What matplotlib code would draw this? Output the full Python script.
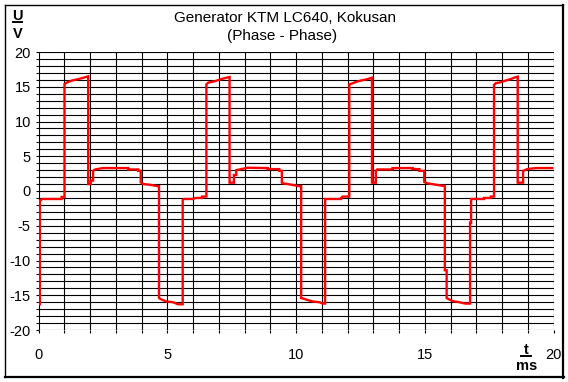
import matplotlib
matplotlib.use("Agg")
import matplotlib.pyplot as plt
from matplotlib.lines import Line2D
from matplotlib.ticker import MultipleLocator, FuncFormatter

# ---- data (time in ms, voltage in V) ----
t_ms = [0.00, 0.05, 0.05, 0.15, 0.90, 0.90, 1.01,
        1.01, 1.10, 1.30, 1.55, 1.75, 1.93,
        1.93, 2.03, 2.03, 2.12, 2.12, 2.20, 2.50, 3.48, 3.48, 3.87, 3.87, 3.97,
        3.97, 4.06, 4.32, 4.64, 4.68,
        4.68, 4.77, 4.97, 5.22, 5.42, 5.60,
        5.60, 5.65, 6.00, 6.10, 6.35, 6.35, 6.52,
        6.52, 6.60, 6.85, 7.10, 7.30, 7.42,
        7.42, 7.59, 7.59, 7.68, 7.68, 8.13, 8.90, 8.90, 9.35, 9.35, 9.45,
        9.45, 9.49, 9.75, 10.13, 10.20,
        10.20, 10.30, 10.46, 10.65, 10.91, 11.04, 11.13,
        11.13, 11.75, 11.75, 11.81, 12.07,
        12.07, 12.20, 12.33, 12.53, 12.78, 12.95,
        12.95, 13.10, 13.10, 13.15, 13.75, 13.75, 14.53, 14.53, 14.79, 14.79, 14.98,
        14.98, 15.11, 15.37, 15.69, 15.78,
        15.78, 15.85, 15.85, 15.95, 16.08, 16.34, 16.57, 16.76,
        16.76, 16.80, 16.80, 17.30, 17.30, 17.57, 17.57, 17.69,
        17.69, 17.75, 17.95, 18.15, 18.34, 18.47, 18.61,
        18.61, 18.82, 18.82, 18.98, 19.31, 19.95]
u_v = [-16.3, -16.3, -1.4, -1.15, -1.15, -0.85, -0.85,
       15.4, 15.6, 15.9, 16.1, 16.3, 16.5,
       1.0, 1.0, 1.5, 1.5, 2.9, 3.1, 3.3, 3.3, 3.1, 3.1, 2.9, 2.9,
       1.25, 1.0, 0.9, 0.7, 0.7,
       -15.4, -15.6, -15.9, -16.0, -16.3, -16.3,
       -1.3, -1.15, -1.15, -1.0, -1.0, -0.8, -0.8,
       15.35, 15.6, 15.8, 16.1, 16.3, 16.4,
       1.2, 1.2, 2.3, 2.3, 3.0, 3.35, 3.3, 3.15, 3.15, 2.9, 2.9,
       1.2, 1.1, 0.95, 0.7, 0.7,
       -15.4, -15.5, -15.7, -15.9, -16.0, -16.2, -16.2,
       -1.15, -1.15, -1.0, -0.8, -0.8,
       15.35, 15.5, 15.7, 15.9, 16.1, 16.3,
       1.2, 1.2, 2.9, 3.1, 3.1, 3.3, 3.3, 3.15, 3.15, 2.9, 2.9,
       1.3, 1.1, 0.95, 0.75, 0.75,
       -11.4, -11.4, -15.4, -15.6, -15.85, -16.0, -16.2, -16.2,
       -4.55, -4.55, -1.15, -1.15, -1.0, -1.0, -0.8, -0.8,
       15.25, 15.5, 15.65, 15.9, 16.1, 16.3, 16.45,
       1.2, 1.2, 2.9, 3.15, 3.3, 3.3]

title_lines = ["Generator KTM LC640, Kokusan", "(Phase - Phase)"]
x_major = 5
y_major = 5

W, H = 568, 382
fig = plt.figure(figsize=(W / 100, H / 100), dpi=100)
fig.patch.set_facecolor("white")
plt.rcParams['font.family'] = ['Liberation Sans', 'DejaVu Sans']

def fx(px):
    return px / W

def fy(py):
    return 1 - py / H

x0, x1, y0, y1 = 38.5, 553.5, 52, 330
ax = fig.add_axes([fx(x0), fy(y1), fx(x1) - fx(x0), fy(y0) - fy(y1)])
ax.plot(t_ms, u_v, color="#ff0000", lw=1.7, zorder=3, solid_joinstyle="miter")
ax.set_xlim(0, 20)
ax.set_ylim(-20, 20)

ax.xaxis.set_major_locator(MultipleLocator(1))
ax.yaxis.set_major_locator(MultipleLocator(1))
ax.xaxis.set_major_formatter(FuncFormatter(lambda v, p: f"{int(round(v))}" if round(v) % x_major == 0 else ""))
ax.yaxis.set_major_formatter(FuncFormatter(lambda v, p: f"{int(round(v))}" if round(v) % y_major == 0 else ""))
ax.grid(True, color="black", lw=0.8)
for s in ax.spines.values():
    s.set_visible(False)
ax.tick_params(axis="both", direction="out", length=2.5, width=0.8, color="black",
               labelsize=10.5, labelcolor="black")
ax.tick_params(axis="y", pad=3)
ax.tick_params(axis="x", pad=10.5)

# title
fig.text(fx(285), fy(17.5), title_lines[0], ha="center", va="center", fontsize=11)
fig.text(fx(282), fy(36), title_lines[1], ha="center", va="center", fontsize=11)

# axis unit labels
fig.text(fx(17.5), fy(16.5), "U", ha="center", va="center", fontsize=10.5, fontweight="bold")
fig.add_artist(Line2D([fx(13), fx(22)], [fy(22), fy(22)], color="black", lw=1.4))
fig.text(fx(17.5), fy(34), "V", ha="center", va="center", fontsize=10.5, fontweight="bold")

fig.text(fx(526), fy(349.5), "t", ha="center", va="center", fontsize=10.5, fontweight="bold")
fig.add_artist(Line2D([fx(521), fx(531)], [fy(355.5), fy(355.5)], color="black", lw=1.4))
fig.text(fx(527), fy(366), "ms", ha="center", va="center", fontsize=10.5, fontweight="bold")

# outer frame
fig.add_artist(Line2D([fx(5), fx(563)], [fy(5), fy(5)], color="black", lw=1.0))
fig.add_artist(Line2D([fx(5), fx(5)], [fy(5), fy(377)], color="black", lw=1.0))
fig.add_artist(Line2D([fx(5), fx(563.5)], [fy(377), fy(377)], color="black", lw=1.6))
fig.add_artist(Line2D([fx(563), fx(563)], [fy(5), fy(377.5)], color="black", lw=1.6))

fig.savefig("out.png", dpi=100)
